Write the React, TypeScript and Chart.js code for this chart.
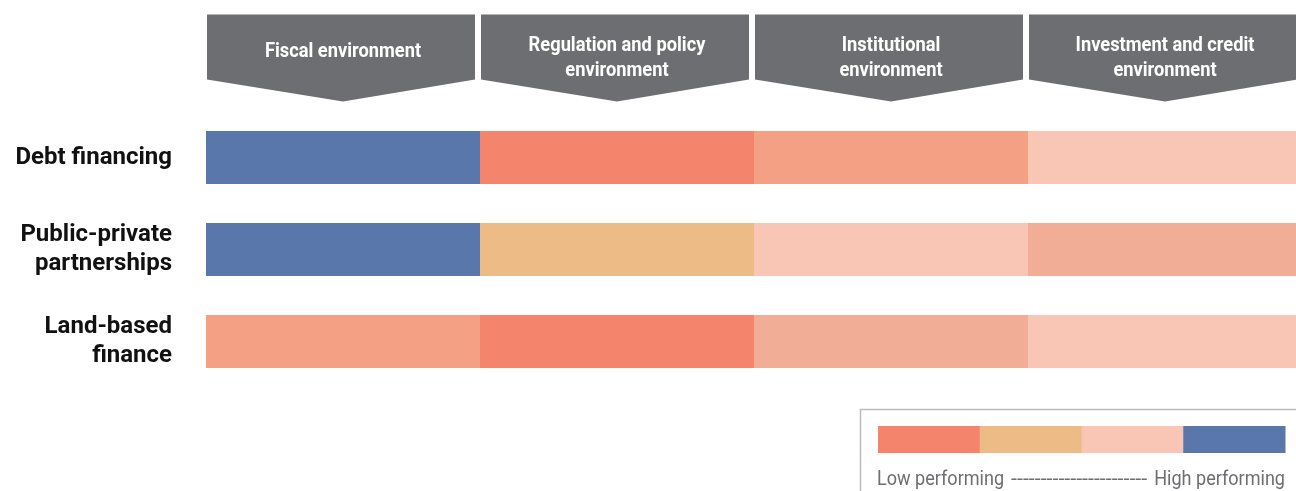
import React, { useEffect, useRef } from "react";
import { Chart, registerables } from "chart.js";

Chart.register(...registerables);

// ---- Data ----
const rowLabels: (string | string[])[] = [
  "Debt financing",
  ["Public-private", "partnerships"],
  ["Land-based", "finance"],
];

const dimensions: string[][] = [
  ["Fiscal environment"],
  ["Regulation and policy", "environment"],
  ["Institutional", "environment"],
  ["Investment and credit", "environment"],
];

// performance shade per cell, one array per dimension (values per row)
const fiscalLevels = ["top", "top", "lowMid"];
const regulationLevels = ["low", "mid", "low"];
const institutionalLevels = ["lowMid", "high", "midHigh"];
const investmentLevels = ["high", "midHigh", "high"];

const levelColors: Record<string, string> = {
  low: "#f4846b",
  lowMid: "#f4a084",
  mid: "#edbb85",
  midHigh: "#f2ad97",
  high: "#f9c5b4",
  top: "#5a77ab",
};

const legendLevels = ["low", "mid", "high", "top"];
const legendLow = "Low performing";
const legendDashes = "-----------------------";
const legendHigh = "High performing";

const cellValue = 1;

const headerPlugin = {
  id: "headers",
  afterDraw(chart: any) {
    const { ctx, chartArea, scales } = chart;
    const xs = scales.x;
    ctx.save();
    dimensions.forEach((lines, i) => {
      const left = xs.getPixelForValue(i) + 1;
      const right = xs.getPixelForValue(i + 1) - 5;
      const cx = (xs.getPixelForValue(i) + xs.getPixelForValue(i + 1)) / 2;
      const top = chartArea.top - 97;
      ctx.fillStyle = "#6d6e71";
      ctx.beginPath();
      ctx.moveTo(left, top);
      ctx.lineTo(right, top);
      ctx.lineTo(right, top + 65);
      ctx.lineTo(cx, top + 87);
      ctx.lineTo(left, top + 65);
      ctx.closePath();
      ctx.fill();
      ctx.fillStyle = "#ffffff";
      ctx.font = "bold 21px Roboto, 'Noto Sans', sans-serif";
      ctx.textAlign = "center";
      ctx.textBaseline = "middle";
      const ys = lines.length === 1 ? [top + 37] : [top + 31, top + 56];
      lines.forEach((ln, k) => {
        ctx.save();
        ctx.translate(cx, ys[k]);
        ctx.scale(0.87, 1);
        ctx.fillText(ln, 0, 0);
        ctx.restore();
      });
    });

    // legend box
    const boxLeft = 860;
    const boxTop = 409;
    ctx.strokeStyle = "#bbbbbb";
    ctx.lineWidth = 1.5;
    ctx.strokeRect(boxLeft + 0.5, boxTop + 0.5, 460, 120);
    const barL = 878;
    const barR = 1285;
    const segW = (barR - barL) / legendLevels.length;
    legendLevels.forEach((lv, i) => {
      ctx.fillStyle = levelColors[lv];
      ctx.fillRect(barL + i * segW, 426, segW + 0.5, 27);
    });
    ctx.fillStyle = "#6d6e71";
    ctx.font = "400 21px Roboto, 'Noto Sans', sans-serif";
    ctx.textBaseline = "alphabetic";
    const cond = 0.86;
    const base = 485;
    const wLow = ctx.measureText(legendLow).width * cond;
    const wHigh = ctx.measureText(legendHigh).width * cond;
    ctx.save();
    ctx.translate(barL - 1, base);
    ctx.scale(cond, 1);
    ctx.textAlign = "left";
    ctx.fillText(legendLow, 0, 0);
    ctx.restore();
    ctx.save();
    ctx.translate(barR, base);
    ctx.scale(cond, 1);
    ctx.textAlign = "right";
    ctx.fillText(legendHigh, 0, 0);
    ctx.restore();
    const dStart = barL - 1 + wLow + 7;
    const dEnd = barR - wHigh - 7;
    const wD = ctx.measureText(legendDashes).width;
    ctx.save();
    ctx.translate(dStart, base);
    ctx.scale((dEnd - dStart) / wD, 1);
    ctx.textAlign = "left";
    ctx.fillText(legendDashes, 0, 0);
    ctx.restore();
    ctx.restore();
  },
};

export default function App() {
  const ref = useRef<HTMLCanvasElement>(null);
  useEffect(() => {
    if (!ref.current) return;
    const levelSets = [fiscalLevels, regulationLevels, institutionalLevels, investmentLevels];
    const chart = new Chart(ref.current, {
      type: "bar",
      data: {
        labels: rowLabels as any,
        datasets: levelSets.map((lv, i) => ({
          label: dimensions[i].join(" "),
          data: lv.map(() => cellValue),
          backgroundColor: lv.map((l) => levelColors[l]),
          borderWidth: 0,
          categoryPercentage: 1,
          barPercentage: 0.576,
        })),
      },
      options: {
        indexAxis: "y",
        animation: false,
        responsive: false,
        maintainAspectRatio: false,
        layout: { padding: { top: 111.5, bottom: 103.5, left: 0, right: 0 } },
        plugins: { legend: { display: false }, tooltip: { enabled: false } },
        scales: {
          x: { stacked: true, min: 0, max: 3.978, display: false },
          y: {
            stacked: true,
            grid: { display: false, drawTicks: false },
            border: { display: false },
            ticks: {
              padding: 34,
              color: "#111111",
              font: { family: "Roboto, 'Noto Sans', sans-serif", size: 24, weight: "bold", lineHeight: 1.2 },
            },
            afterFit: (s: any) => {
              s.width = 206;
            },
          },
        },
      },
      plugins: [headerPlugin],
    });
    return () => chart.destroy();
  }, []);
  return (
    <div style={{ position: "fixed", left: 0, top: 0, width: 1296, height: 491, background: "#fff" }}>
      <canvas ref={ref} width={1296} height={491} style={{ display: "block" }} />
    </div>
  );
}
